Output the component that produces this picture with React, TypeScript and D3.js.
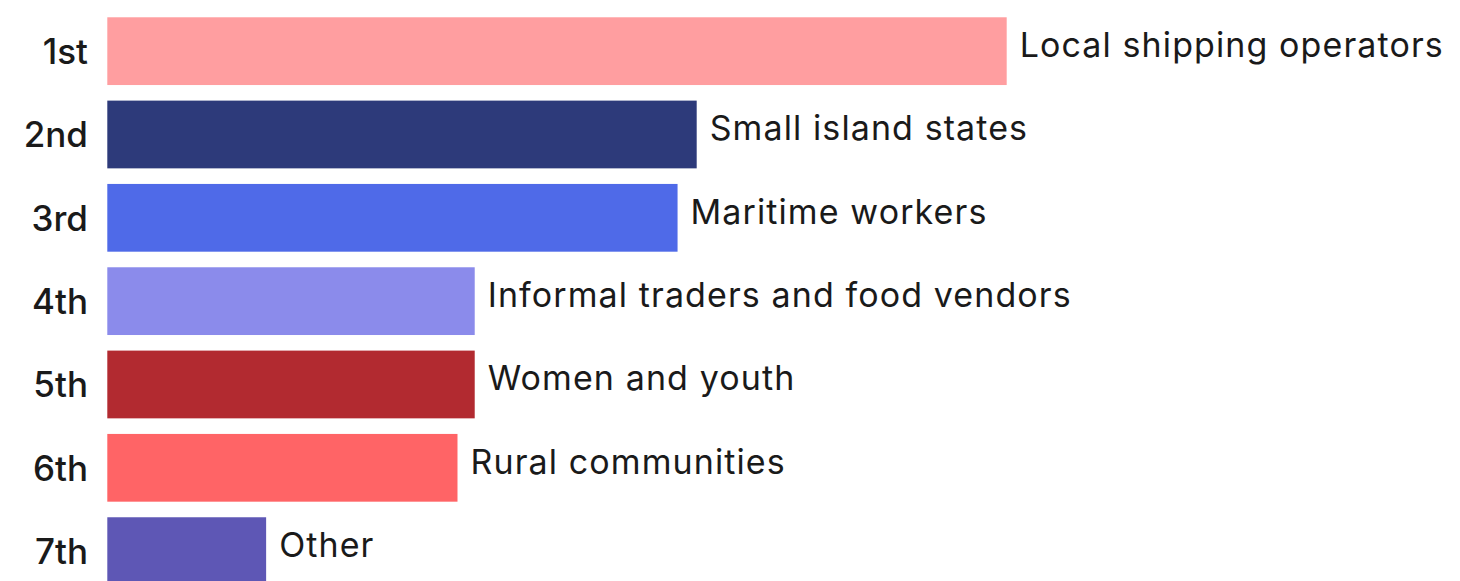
import React from "react";
import * as d3 from "d3";

const ranks = ["1st", "2nd", "3rd", "4th", "5th", "6th", "7th"];
const groups = [
  "Local shipping operators",
  "Small island states",
  "Maritime workers",
  "Informal traders and food vendors",
  "Women and youth",
  "Rural communities",
  "Other",
];
const values = [47, 30.8, 29.8, 19.2, 19.2, 18.3, 8.3];
const colors = ["#FF9EA0", "#2D3A7A", "#4F6AE8", "#8B8BEB", "#B22A30", "#FF6466", "#5E57B5"];

const W = 1460;
const H = 581;

export default function App() {
  const x = d3.scaleLinear().domain([0, 47]).range([107.3, 1006.7]);
  const y = d3
    .scaleBand<string>()
    .domain(ranks)
    .range([1.7, 1.7 + 83.33 * (7 + 0.187)])
    .padding(0.187);
  const font = "Inter, 'Noto Sans', sans-serif";
  return (
    <svg
      width={W}
      height={H}
      style={{ position: "absolute", left: 0, top: 0, background: "#fff" }}
    >
      {ranks.map((r, i) => {
        const y0 = y(r)!;
        const bw = y.bandwidth();
        const cy = y0 + bw / 2;
        return (
          <g key={r}>
            <rect x={x(0)} y={y0} width={x(values[i]) - x(0)} height={bw} fill={colors[i]} />
            <text
              x={88}
              y={cy + 13}
              textAnchor="end"
              fontFamily={font}
              fontSize={35}
              fontWeight={500}
              fill="#1a1a1a"
            >
              {r}
            </text>
            <text
              x={x(values[i]) + 13}
              y={cy + 6}
              fontFamily={font}
              fontSize={34}
              fontWeight={400}
              letterSpacing={1.1}
              fill="#1a1a1a"
            >
              {groups[i]}
            </text>
          </g>
        );
      })}
    </svg>
  );
}
